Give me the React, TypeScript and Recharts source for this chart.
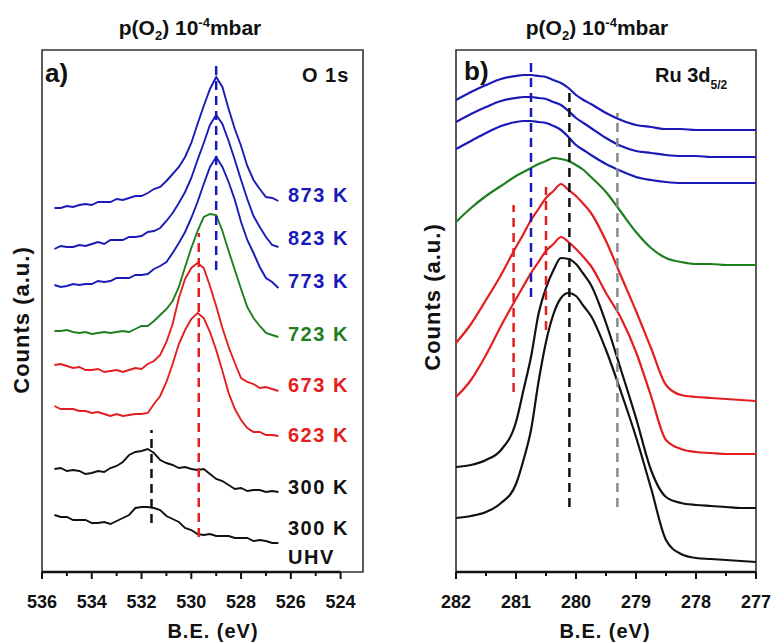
import React from 'react'
import { LineChart, Line, XAxis, YAxis, ReferenceLine, ReferenceArea } from 'recharts'

const BLUE = '#1a1ab8'
const GREEN = '#1f7f1f'
const RED = '#e41e20'
const BLACK = '#111111'
const GRAY = '#8a8a8a'
const FONT = '"Liberation Sans", Arial, Helvetica, sans-serif'

// ---- panel a) O 1s : binding energy grid (eV) and counts (a.u.)
const beO1s = [
  535.5, 535.25, 535, 534.75, 534.5, 534.25, 534, 533.75, 533.5, 533.25, 533, 532.75, 532.5,
  532.25, 532, 531.75, 531.5, 531.25, 531, 530.75, 530.5, 530.25, 530, 529.75, 529.5, 529.25,
  529, 528.75, 528.5, 528.25, 528, 527.75, 527.5, 527.25, 527, 526.75, 526.5,
]
const o873 = [364, 364, 366, 365, 367, 368, 367, 370, 370, 370, 373, 372, 374, 376, 376, 379, 383, 385, 391, 398, 405, 415, 429, 448, 466, 483, 495, 485, 463, 443, 426, 406, 392, 383, 375, 374, 371]
const o823 = [323, 326, 325, 325, 327, 326, 328, 330, 328, 332, 332, 332, 335, 335, 336, 340, 341, 344, 351, 359, 369, 380, 394, 412, 429, 447, 457, 448, 431, 412, 392, 373, 356, 345, 335, 327, 325]
const o773 = [287, 285, 286, 288, 287, 288, 288, 291, 290, 291, 294, 294, 294, 297, 297, 298, 303, 306, 310, 319, 329, 340, 354, 370, 388, 405, 415, 405, 390, 372, 350, 332, 319, 305, 294, 290, 284]
const o723 = [241, 241, 242, 240, 239, 240, 238, 239, 240, 239, 240, 241, 240, 243, 246, 246, 251, 257, 263, 271, 285, 305, 324, 341, 355, 358, 357, 341, 321, 302, 283, 265, 254, 246, 239, 237, 235]
const o673 = [207, 208, 206, 204, 205, 202, 202, 203, 200, 201, 202, 200, 202, 204, 203, 208, 211, 217, 230, 248, 274, 293, 304, 309, 304, 286, 266, 244, 225, 209, 194, 190, 188, 184, 185, 183, 181]
const o623 = [166, 163, 163, 163, 161, 161, 159, 160, 158, 156, 158, 156, 157, 158, 158, 159, 168, 176, 190, 208, 228, 242, 253, 259, 254, 240, 222, 201, 179, 163, 152, 144, 140, 140, 137, 137, 136]
const o300 = [103, 104, 101, 102, 101, 98, 99, 101, 100, 104, 106, 110, 117, 120, 121, 123, 119, 112, 109, 107, 104, 105, 103, 102, 103, 98, 93, 91, 87, 83, 84, 81, 82, 82, 80, 81, 80]
const oUHV = [57, 55, 55, 52, 52, 52, 49, 49, 50, 48, 51, 54, 57, 64, 65, 65, 64, 62, 56, 53, 50, 44, 42, 38, 37, 38, 36, 36, 36, 34, 34, 34, 31, 32, 31, 29, 29]

const o1sTicks = [536, 535, 534, 533, 532, 531, 530, 529, 528, 527, 526, 525, 524]
const o1sMajor = [536, 534, 532, 530, 528, 526, 524]
// dashed peak markers: [B.E., counts from, counts to]
const o1sMarkers = [
  [529.0, 302, 510],
  [529.7, 35, 339],
  [531.6, 49, 142],
]

// ---- panel b) Ru 3d5/2
const beRu = [
  282, 281.75, 281.5, 281.25, 281, 280.875, 280.75, 280.625, 280.5, 280.375, 280.25, 280.125, 280,
  279.875, 279.75, 279.5, 279.25, 279, 278.75, 278.5, 278.25, 278, 277.75, 277.5, 277.25, 277,
]
const ru873 = [472, 480, 487, 493, 496, 497, 497, 496, 495, 492, 489, 484, 477, 472, 468, 459, 452, 447, 445, 443, 443, 442, 442, 442, 442, 442]
const ru823 = [450, 458, 465, 471, 474, 475, 475, 474, 473, 470, 467, 461, 454, 449, 444, 434, 426, 421, 419, 417, 416, 416, 415, 415, 415, 415]
const ru773 = [423, 431, 439, 446, 450, 451, 451, 450, 449, 446, 442, 435, 427, 422, 417, 408, 401, 395, 392, 390, 389, 389, 389, 389, 389, 389]
const ru723 = [350, 364, 376, 386, 396, 400, 404, 408, 411, 414, 413, 411, 407, 402, 395, 380, 360, 340, 324, 314, 310, 308, 308, 307, 307, 307]
const ru673 = [229, 248, 272, 297, 325, 338, 352, 363, 374, 381, 388, 382, 376, 368, 359, 331, 296, 261, 224, 187, 177, 175, 174, 173, 172, 171]
const ru623 = [175, 192, 217, 246, 273, 286, 299, 310, 321, 328, 335, 330, 323, 315, 306, 279, 254, 220, 176, 132, 123, 120, 119, 118, 118, 118]
const ru300 = [105, 107, 112, 122, 150, 182, 215, 258, 284, 302, 314, 313, 308, 298, 287, 249, 202, 154, 102, 75, 69, 67, 66, 65, 64, 64]
const ruUHV = [54, 56, 60, 69, 88, 112, 142, 190, 230, 258, 274, 279, 276, 266, 256, 222, 180, 135, 84, 32, 18, 14, 13, 12, 11, 10]

const ruTicks = [282, 281.5, 281, 280.5, 280, 279.5, 279, 278.5, 278, 277.5, 277]
const ruMajor = [282, 281, 280, 279, 278, 277]
const ruMarkers = [
  [280.75, 275, 512],
  [280.11, 65, 484],
  [279.31, 65, 459],
  [281.04, 180, 367],
  [280.5, 242, 385],
]

const o1sData = beO1s.map((e, i) => ({
  e, t873: o873[i], t823: o823[i], t773: o773[i], t723: o723[i],
  t673: o673[i], t623: o623[i], t300: o300[i], uhv: oUHV[i],
}))
const ruData = beRu.map((e, i) => ({
  e, t873: ru873[i], t823: ru823[i], t773: ru773[i], t723: ru723[i],
  t673: ru673[i], t623: ru623[i], t300: ru300[i], uhv: ruUHV[i],
}))

const series = [
  { key: 't873', color: BLUE },
  { key: 't823', color: BLUE },
  { key: 't773', color: BLUE },
  { key: 't723', color: GREEN },
  { key: 't673', color: RED },
  { key: 't623', color: RED },
  { key: 't300', color: BLACK },
  { key: 'uhv', color: BLACK },
]
const o1sMarkerColors = [BLUE, RED, BLACK]
const ruMarkerColors = [BLUE, BLACK, GRAY, RED, RED]

function makeTick(major: number[]) {
  return (props: any) => {
    const { x, y, payload } = props
    const isMajor = major.includes(payload.value)
    return (
      <g>
        <line x1={x} x2={x} y1={y} y2={y + (isMajor ? 7 : 4)} stroke={BLACK} strokeWidth={2} />
        {isMajor && (
          <text x={x} y={y + 36} textAnchor="middle" fontSize={18} fontWeight="bold" fontFamily={FONT} fill={BLACK}>
            {payload.value}
          </text>
        )}
      </g>
    )
  }
}

const o1sLabels = [
  { t: '873 K', y: 202, c: BLUE },
  { t: '823 K', y: 245, c: BLUE },
  { t: '773 K', y: 288, c: BLUE },
  { t: '723 K', y: 341, c: GREEN },
  { t: '673 K', y: 392, c: RED },
  { t: '623 K', y: 442, c: RED },
  { t: '300 K', y: 494, c: BLACK },
  { t: '300 K', y: 535, c: BLACK },
  { t: 'UHV', y: 564, c: BLACK },
]

function Panel({ data, domain, ticks, major, markers, markerColors, smooth, width, margin }: any) {
  return (
    <LineChart width={width} height={643} data={data} margin={margin}>
      <XAxis
        dataKey="e"
        type="number"
        domain={domain}
        reversed
        allowDataOverflow
        ticks={ticks}
        interval={0}
        tick={makeTick(major)}
        tickLine={false}
        axisLine={false}
        tickSize={0}
        tickMargin={0}
        height={71}
      />
      <YAxis hide width={0} type="number" domain={[0, 522]} allowDataOverflow />
      <ReferenceArea x1={domain[0]} x2={domain[1]} y1={0} y2={522} fill="none" stroke="#333" strokeWidth={1.6} />
      <ReferenceLine
        segment={[{ x: major[0], y: 0 }, { x: major[major.length - 1], y: 0 }]}
        stroke={BLACK}
        strokeWidth={2.5}
      />
      {series.map((s) => (
        <Line
          key={s.key}
          dataKey={s.key}
          type={smooth ? 'monotone' : 'linear'}
          stroke={s.color}
          strokeWidth={smooth ? 2.2 : 1.9}
          dot={false}
          activeDot={false}
          isAnimationActive={false}
        />
      ))}
      {markers.map((m: number[], i: number) => (
        <ReferenceLine
          key={i}
          segment={[{ x: m[0], y: m[1] }, { x: m[0], y: m[2] }]}
          stroke={markerColors[i]}
          strokeWidth={2.5}
          strokeDasharray="9 6"
        />
      ))}
    </LineChart>
  )
}

export default function App() {
  const txt = { fontFamily: FONT, fontWeight: 'bold' as const }
  return (
    <div style={{ position: 'absolute', left: 0, top: 0, width: 773, height: 643, background: '#fff', overflow: 'hidden' }}>
      <div style={{ position: 'absolute', left: 0, top: 0 }}>
        <Panel
          data={o1sData}
          domain={[523.1, 536]}
          ticks={o1sTicks}
          major={o1sMajor}
          markers={o1sMarkers}
          markerColors={o1sMarkerColors}
          smooth={false}
          width={385}
          margin={{ top: 50, right: 22, bottom: 0, left: 42 }}
        />
      </div>
      <div style={{ position: 'absolute', left: 388, top: 0 }}>
        <Panel
          data={ruData}
          domain={[277, 282]}
          ticks={ruTicks}
          major={ruMajor}
          markers={ruMarkers}
          markerColors={ruMarkerColors}
          smooth
          width={385}
          margin={{ top: 50, right: 17, bottom: 0, left: 68 }}
        />
      </div>
      <svg width={773} height={643} style={{ position: 'absolute', left: 0, top: 0, pointerEvents: 'none' }}>
        <g {...txt} fill={BLACK}>
          <text x={190} y={35} textAnchor="middle" fontSize={21}>
            p(O<tspan dy={5} fontSize={13}>2</tspan>
            <tspan dy={-5}>) 10</tspan>
            <tspan dy={-8} fontSize={13}>-4</tspan>
            <tspan dy={8}>mbar</tspan>
          </text>
          <text x={597} y={35} textAnchor="middle" fontSize={21}>
            p(O<tspan dy={5} fontSize={13}>2</tspan>
            <tspan dy={-5}>) 10</tspan>
            <tspan dy={-8} fontSize={13}>-4</tspan>
            <tspan dy={8}>mbar</tspan>
          </text>
          <text x={45} y={82} fontSize={26}>a)</text>
          <text x={302} y={82} fontSize={20} letterSpacing={1}>O 1s</text>
          <text x={464} y={80} fontSize={26}>b)</text>
          <text x={655} y={82} fontSize={20}>
            Ru 3d<tspan dy={7} fontSize={12}>5/2</tspan>
          </text>
          <text transform="translate(21,320) rotate(-90)" textAnchor="middle" dominantBaseline="central" fontSize={22} letterSpacing={1}>
            Counts (a.u.)
          </text>
          <text transform="translate(432,297) rotate(-90)" textAnchor="middle" dominantBaseline="central" fontSize={22} letterSpacing={1}>
            Counts (a.u.)
          </text>
          <text x={213} y={638} textAnchor="middle" fontSize={20} letterSpacing={1}>B.E. (eV)</text>
          <text x={605} y={638} textAnchor="middle" fontSize={20} letterSpacing={1}>B.E. (eV)</text>
          {o1sLabels.map((l, i) => (
            <text key={i} x={288} y={l.y} fontSize={20} letterSpacing={1.5} fill={l.c}>
              {l.t}
            </text>
          ))}
        </g>
      </svg>
    </div>
  )
}
